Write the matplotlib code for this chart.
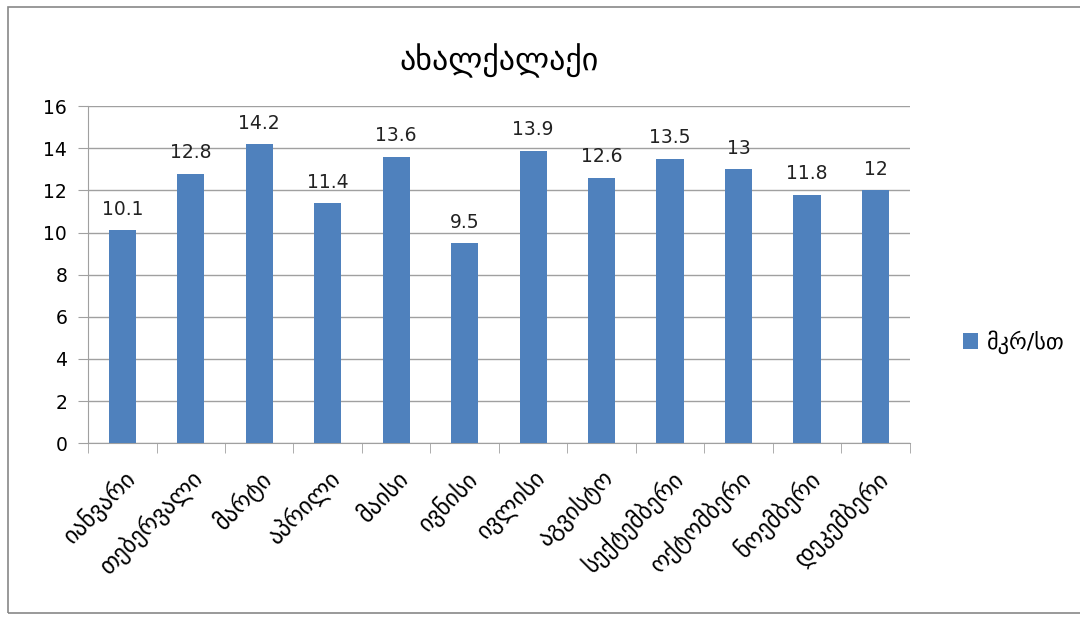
import matplotlib
matplotlib.use('Agg')
import matplotlib.pyplot as plt
from matplotlib.patches import Rectangle

plt.rcParams['font.family'] = ['DejaVu Sans']

months = ['იანვარი', 'თებერვალი', 'მარტი', 'აპრილი', 'მაისი', 'ივნისი',
          'ივლისი', 'აგვისტო', 'სექტემბერი', 'ოქტომბერი', 'ნოემბერი', 'დეკემბერი']
values = [10.1, 12.8, 14.2, 11.4, 13.6, 9.5, 13.9, 12.6, 13.5, 13, 11.8, 12]
value_labels = ['10.1', '12.8', '14.2', '11.4', '13.6', '9.5',
                '13.9', '12.6', '13.5', '13', '11.8', '12']
title = 'ახალქალაქი'
series_name = 'მკრ/სთ'
yticks = [0, 2, 4, 6, 8, 10, 12, 14, 16]

bar_color = '#4f81bd'
grid_color = '#a0a0a0'

fig = plt.figure(figsize=(10.8, 6.18), dpi=100)
fig.patches.append(Rectangle((0.007, 0.008), 1.2, 0.98, transform=fig.transFigure,
                             fill=False, edgecolor='#888888', linewidth=1.2))
ax = fig.add_axes([0.0815, 0.283, 0.761, 0.545])

x = list(range(len(months)))
bars = ax.bar(x, values, width=0.4, color=bar_color, label=series_name, zorder=3)
for xi, v, lab in zip(x, values, value_labels):
    ax.text(xi, v + 0.55, lab, ha='center', va='bottom', fontsize=13.5, color='#222222')

ax.set_xlim(-0.5, len(months) - 0.5)
ax.set_ylim(0, 16)
ax.set_yticks(yticks)
ax.set_yticklabels([str(t) for t in yticks], fontsize=13.5)
ax.yaxis.grid(True, color=grid_color, linewidth=1, zorder=0)
ax.tick_params(axis='y', length=7, color=grid_color, pad=8)

ax.set_xticks(x)
ax.set_xticklabels(months, rotation=45, ha='right', rotation_mode='anchor', fontsize=17)
ax.tick_params(axis='x', length=0, pad=16)
ax.set_xticks([i - 0.5 for i in range(len(months) + 1)], minor=True)
ax.tick_params(axis='x', which='minor', length=7, color=grid_color)

for s in ['top', 'right']:
    ax.spines[s].set_visible(False)
ax.spines['left'].set_color(grid_color)
ax.spines['bottom'].set_color(grid_color)

ax.set_title(title, fontsize=23, pad=26)

ax.legend(loc='center left', bbox_to_anchor=(1.04, 0.3), frameon=False,
          prop={'size': 16},
          handlelength=0.7, handleheight=0.7, handletextpad=0.4)

fig.savefig('out.png', dpi=100)
